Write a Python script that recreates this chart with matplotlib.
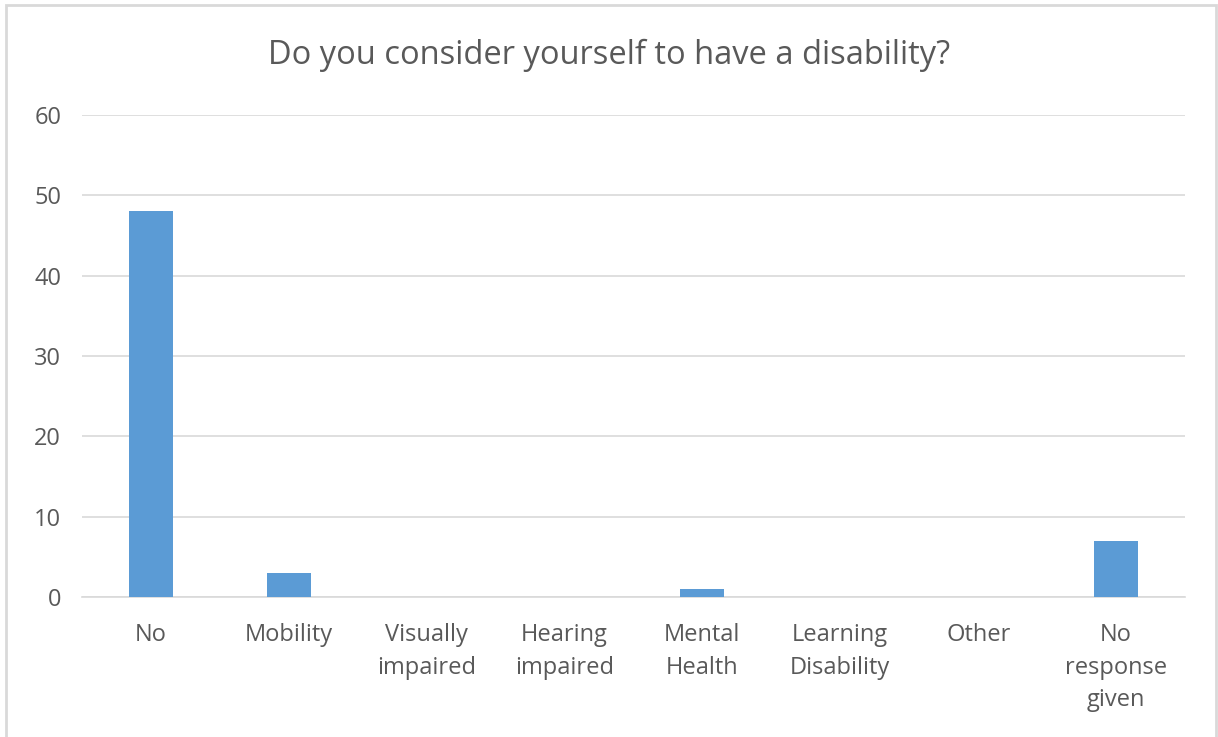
import matplotlib.pyplot as plt
import matplotlib.patches as patches

plt.rcParams['font.family'] = ['Open Sans', 'DejaVu Sans']

categories = ["No", "Mobility", "Visually\nimpaired", "Hearing\nimpaired",
              "Mental\nHealth", "Learning\nDisability", "Other", "No\nresponse\ngiven"]
counts = [48, 3, 0, 0, 1, 0, 0, 7]
y_ticks = [0, 10, 20, 30, 40, 50, 60]

text_color = '#595959'
grid_color = '#d9d9d9'
bar_color = '#5B9BD5'

fig = plt.figure(figsize=(12.18, 7.37), dpi=100)
fig.patch.set_facecolor('white')

# outer chart border
border = patches.Rectangle((6 / 1218, -0.01), 1210 / 1218, 1 - 5 / 737 + 0.01,
                           transform=fig.transFigure, fill=False,
                           edgecolor=grid_color, linewidth=2)
fig.patches.append(border)

ax = fig.add_axes([82 / 1218, 1 - 597 / 737, 1103 / 1218, 482 / 737])
x = list(range(len(categories)))
ax.bar(x, counts, width=0.32, color=bar_color, zorder=3)

ax.set_xlim(-0.5, len(categories) - 0.5)
ax.set_ylim(0, 60)
ax.set_yticks(y_ticks)
ax.yaxis.grid(True, color=grid_color, linewidth=1.2, zorder=0)
ax.set_xticks(x)
ax.set_xticklabels(categories, linespacing=1.47)

for side in ['top', 'right', 'left']:
    ax.spines[side].set_visible(False)
ax.spines['bottom'].set_color(grid_color)
ax.spines['bottom'].set_linewidth(1.2)

ax.tick_params(axis='both', length=0, labelsize=17, labelcolor=text_color)
ax.tick_params(axis='x', pad=19)
ax.tick_params(axis='y', pad=15)

fig.text(0.5, 1 - 55 / 737, "Do you consider yourself to have a disability?",
         ha='center', va='center', fontsize=23.5, color=text_color)

fig.savefig('out.png', dpi=100)
